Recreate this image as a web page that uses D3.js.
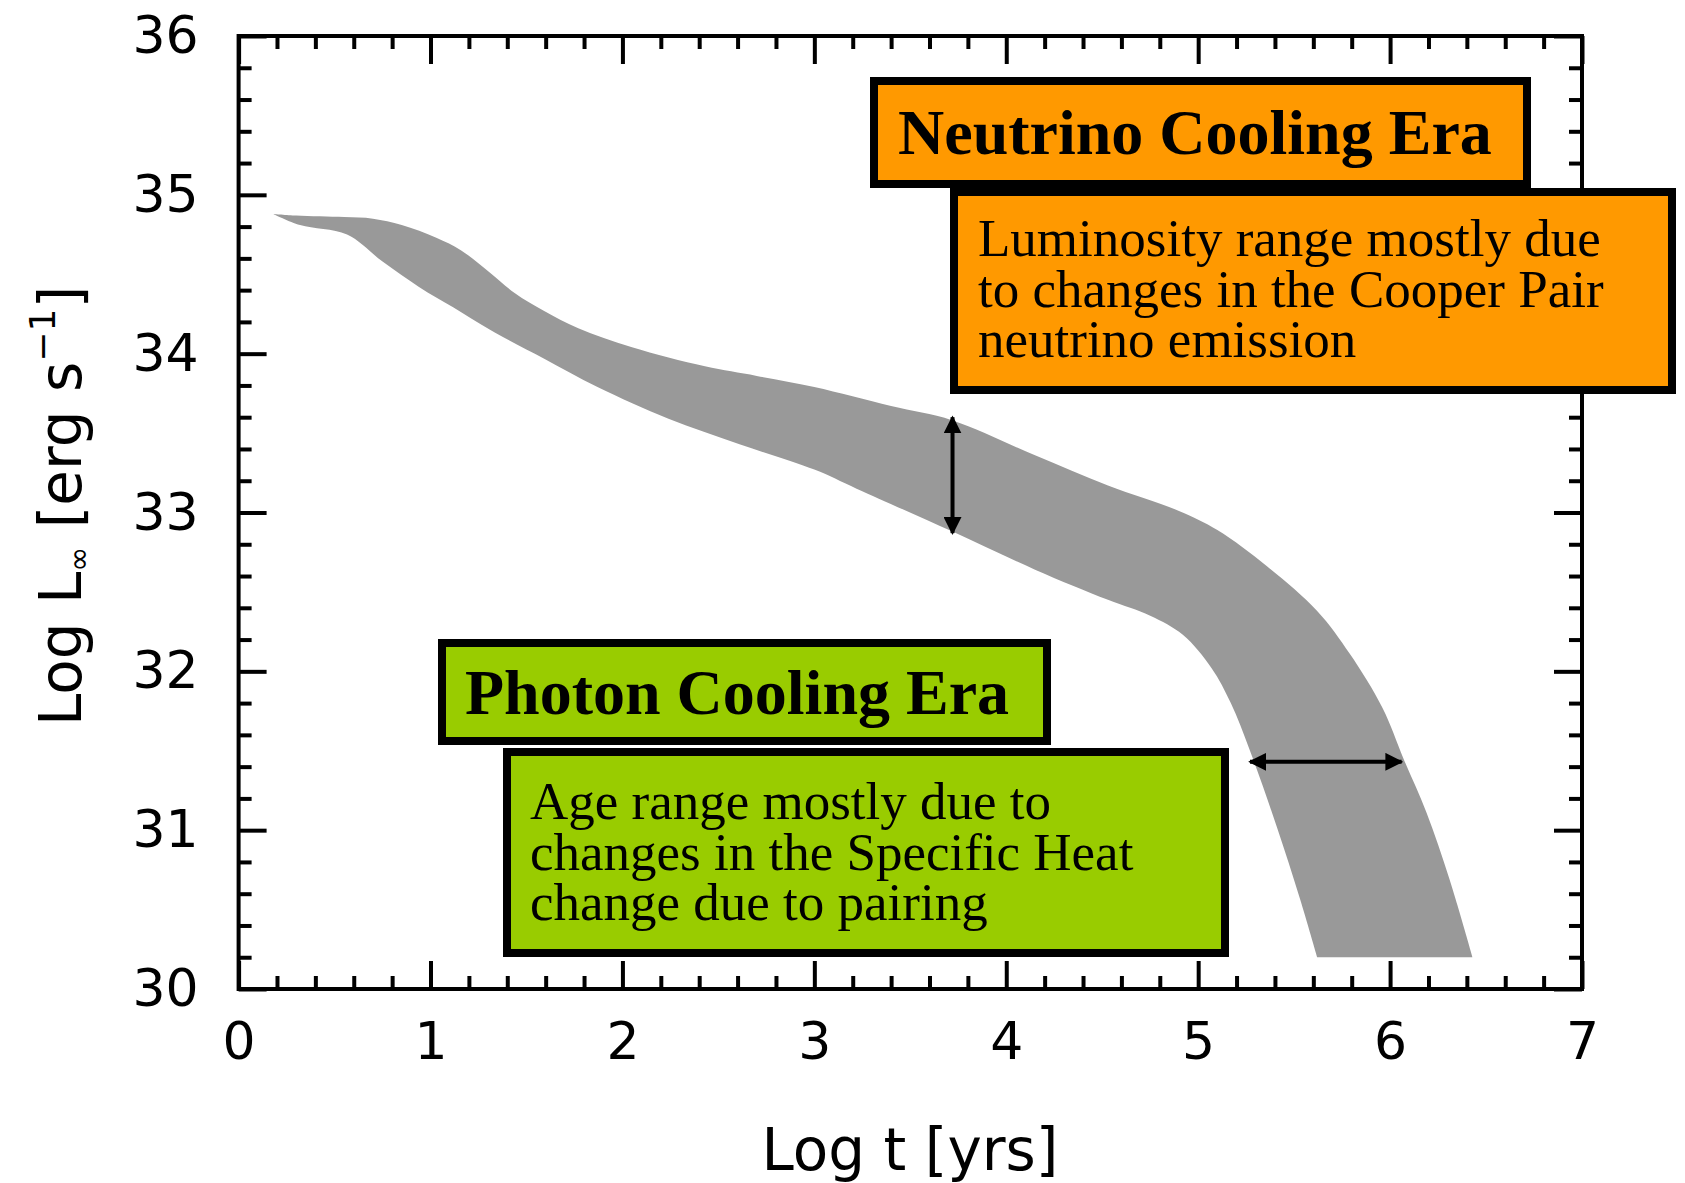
<!DOCTYPE html>
<html>
<head>
<meta charset="utf-8">
<script src="https://cdn.jsdelivr.net/npm/d3@7"></script>
<style>
  html, body { margin: 0; padding: 0; background: #fff; }
  svg { display: block; }
</style>
</head>
<body>
<div id="chart"></div>
<script>
  'use strict';

  // upper edge of the cooling band (log t, log L)
  var upperT = [0.18, 0.30, 0.55, 0.70, 0.85, 1.03, 1.16, 1.31, 1.44, 1.59, 1.77, 2.05, 2.43, 2.70, 3.00, 3.40, 3.72, 4.15, 4.53, 4.90, 5.10, 5.36, 5.62, 5.79, 5.96, 6.07, 6.19, 6.31, 6.43];
  var upperL = [34.88, 34.87, 34.86, 34.85, 34.81, 34.73, 34.65, 34.51, 34.38, 34.27, 34.16, 34.04, 33.92, 33.86, 33.79, 33.67, 33.58, 33.36, 33.17, 33.01, 32.89, 32.66, 32.38, 32.11, 31.77, 31.45, 31.11, 30.69, 30.20];

  // lower edge of the cooling band
  var lowerT = [0.18, 0.32, 0.565, 0.75, 0.94, 1.12, 1.31, 1.59, 1.87, 2.24, 2.61, 3.00, 3.22, 3.72, 4.15, 4.53, 4.75, 4.92, 5.07, 5.17, 5.27, 5.41, 5.53, 5.62];
  var lowerL = [34.88, 34.81, 34.75, 34.58, 34.42, 34.29, 34.15, 33.97, 33.79, 33.59, 33.43, 33.27, 33.15, 32.88, 32.64, 32.45, 32.35, 32.23, 32.02, 31.80, 31.50, 31.02, 30.57, 30.20];

  // tick values
  var xTicks = [0, 1, 2, 3, 4, 5, 6, 7];
  var yTicks = [30, 31, 32, 33, 34, 35, 36];

  // double arrows: [t0, L0, t1, L1]
  var lumArrow = [3.72, 33.60, 3.72, 32.87];
  var ageArrow = [5.27, 31.43, 6.06, 31.43];

  // annotation texts
  var neutrinoTitle = 'Neutrino Cooling Era';
  var neutrinoLines = ['Luminosity range mostly due', 'to changes in the Cooper Pair', 'neutrino emission'];
  var photonTitle = 'Photon Cooling Era';
  var photonLines = ['Age range mostly due to', 'changes in the Specific Heat', 'change due to pairing'];

  var W = 1685, H = 1183;
  var svg = d3.select('#chart').append('svg').attr('width', W).attr('height', H);

  var x = d3.scaleLinear().domain([0, 7]).range([238.6, 1582]);
  var y = d3.scaleLinear().domain([30, 36]).range([989, 36]);

  var minorX = d3.range(0, 7.001, 0.2).filter(function (v) { return Math.abs(v - Math.round(v)) > 1e-6; });
  var minorY = d3.range(30, 36.001, 0.2).filter(function (v) { return Math.abs(v - Math.round(v)) > 1e-6; });

  // band
  var upper = upperT.map(function (t, i) { return [x(t), y(upperL[i])]; });
  var lower = lowerT.map(function (t, i) { return [x(t), y(lowerL[i])]; }).reverse();
  var line = d3.line().curve(d3.curveCatmullRom.alpha(0.5));
  svg.append('path')
    .attr('d', line(upper) + 'L' + line(lower).slice(1) + 'Z')
    .attr('fill', '#999999');

  // axes: ticks point inward on all four sides
  var MAJ = 28, MIN = 13;
  function styleAxis(g) {
    g.select('.domain').remove();
    g.selectAll('.tick line').attr('stroke', '#000').attr('stroke-width', 4);
  }
  var fontTick = '"DejaVu Sans", sans-serif';

  var gB = svg.append('g').attr('transform', 'translate(0,' + y(30) + ')')
    .call(d3.axisBottom(x).tickValues(xTicks).tickSize(-MAJ).tickPadding(33).tickFormat(d3.format('d')));
  gB.call(styleAxis);
  gB.selectAll('text').attr('font-family', fontTick).attr('font-size', 52).attr('fill', '#000');
  svg.append('g').attr('transform', 'translate(0,' + y(30) + ')')
    .call(d3.axisBottom(x).tickValues(minorX).tickSize(-MIN).tickFormat('')).call(styleAxis);

  svg.append('g').attr('transform', 'translate(0,' + y(36) + ')')
    .call(d3.axisTop(x).tickValues(xTicks).tickSize(-MAJ).tickFormat('')).call(styleAxis);
  svg.append('g').attr('transform', 'translate(0,' + y(36) + ')')
    .call(d3.axisTop(x).tickValues(minorX).tickSize(-MIN).tickFormat('')).call(styleAxis);

  var gL = svg.append('g').attr('transform', 'translate(' + x(0) + ',0)')
    .call(d3.axisLeft(y).tickValues(yTicks).tickSize(-MAJ).tickPadding(40).tickFormat(d3.format('d')));
  gL.call(styleAxis);
  gL.selectAll('text').attr('font-family', fontTick).attr('font-size', 52).attr('fill', '#000');
  svg.append('g').attr('transform', 'translate(' + x(0) + ',0)')
    .call(d3.axisLeft(y).tickValues(minorY).tickSize(-MIN).tickFormat('')).call(styleAxis);

  svg.append('g').attr('transform', 'translate(' + x(7) + ',0)')
    .call(d3.axisRight(y).tickValues(yTicks).tickSize(-MAJ).tickFormat('')).call(styleAxis);
  svg.append('g').attr('transform', 'translate(' + x(7) + ',0)')
    .call(d3.axisRight(y).tickValues(minorY).tickSize(-MIN).tickFormat('')).call(styleAxis);

  // frame
  svg.append('rect')
    .attr('x', x(0)).attr('y', y(36))
    .attr('width', x(7) - x(0)).attr('height', y(30) - y(36))
    .attr('fill', 'none').attr('stroke', '#000').attr('stroke-width', 4);

  // axis titles
  svg.append('text')
    .attr('x', 910).attr('y', 1170)
    .attr('text-anchor', 'middle')
    .attr('font-family', fontTick).attr('font-size', 58)
    .text('Log t [yrs]');

  var yt = svg.append('text')
    .attr('transform', 'translate(81,506) rotate(-90)')
    .attr('text-anchor', 'middle')
    .attr('font-family', fontTick).attr('font-size', 58);
  yt.append('tspan').text('Log L');
  yt.append('tspan').attr('font-size', 30).attr('dy', 8).text('\u221e');
  yt.append('tspan').attr('dy', -8).text(' [erg s');
  yt.append('tspan').attr('font-size', 36).attr('dy', -26).text('\u22121');
  yt.append('tspan').attr('dy', 26).text(']');

  // arrows
  var defs = svg.append('defs');
  defs.append('marker')
    .attr('id', 'head').attr('viewBox', '0 0 10 10')
    .attr('refX', 9).attr('refY', 5)
    .attr('markerWidth', 4.5).attr('markerHeight', 4.5)
    .attr('markerUnits', 'strokeWidth')
    .attr('orient', 'auto-start-reverse')
    .append('path').attr('d', 'M0,0L10,5L0,10Z').attr('fill', '#000');

  [lumArrow, ageArrow].forEach(function (a) {
    svg.append('line')
      .attr('x1', x(a[0])).attr('y1', y(a[1]))
      .attr('x2', x(a[2])).attr('y2', y(a[3]))
      .attr('stroke', '#000').attr('stroke-width', 4)
      .attr('marker-start', 'url(#head)').attr('marker-end', 'url(#head)');
  });

  // annotation boxes
  var serif = '"Liberation Serif", "Times New Roman", serif';
  function box(bx, by, bw, bh, fill) {
    svg.append('rect')
      .attr('x', bx).attr('y', by).attr('width', bw).attr('height', bh)
      .attr('fill', fill).attr('stroke', '#000').attr('stroke-width', 8);
  }
  function title(tx, ty, txt) {
    svg.append('text').attr('x', tx).attr('y', ty)
      .attr('font-family', serif).attr('font-weight', 'bold').attr('font-size', 64)
      .text(txt);
  }
  function lines(tx, ty, arr) {
    svg.append('g').selectAll('text').data(arr).join('text')
      .attr('x', tx).attr('y', function (d, i) { return ty + i * 50.5; })
      .attr('font-family', serif).attr('font-size', 53)
      .text(function (d) { return d; });
  }

  box(874, 81, 653, 103, '#ff9900');
  title(898, 154, neutrinoTitle);
  box(954, 192, 718, 198, '#ff9900');
  lines(978, 256, neutrinoLines);

  box(442, 643, 605, 98, '#99cc00');
  title(465, 714, photonTitle);
  box(507, 752, 718, 201, '#99cc00');
  lines(530, 819, photonLines);
</script>
</body>
</html>
